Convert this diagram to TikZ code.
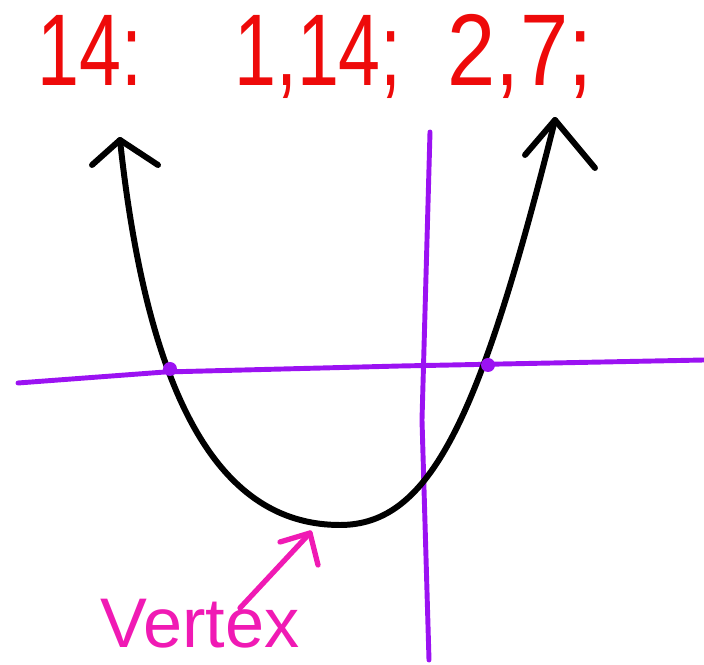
\documentclass[tikz,border=0pt]{standalone}
\usepackage{fontspec}
\setmainfont{Liberation Sans}
\definecolor{penred}{HTML}{EE0A0A}
\definecolor{penpurple}{HTML}{9B12F2}
\definecolor{penpink}{HTML}{F01AB4}

\begin{document}
\begin{tikzpicture}[x=0.02cm, y=-0.02cm, line cap=round, line join=round,
  curve/.style={black, line width=3.4pt},
  axis/.style={penpurple, line width=2.8pt},
  factors/.style={penred, font=\fontsize{58}{62}\selectfont, xscale=0.74, inner sep=0pt, anchor=base},
  pointer/.style={penpink, line width=3pt}]
\useasboundingbox (0,0) rectangle (704,665);
% axes
\coordinate (xl) at (18,383);
\coordinate (xr) at (704,360);
\coordinate (yt) at (430,132);
\coordinate (yb) at (429,660);
\draw[axis] (xl) -- (165,372) -- (400,366) -- (xr);
\draw[axis] (yt) -- (422,420) -- (yb);
% parabola
\coordinate (lt) at (120,140);
\coordinate (vx) at (340,525);
\coordinate (rt) at (555,120);
\draw[curve] (lt) .. controls (150,420) and (230,525) .. (vx)
  .. controls (430,525) and (480,420) .. (rt);
\draw[curve] (92,165) -- (lt) -- (158,165);
\draw[curve] (525,155) -- (rt) -- (595,168);
% zeros
\fill[penpurple] (170,369) circle (7);
\fill[penpurple] (488,365) circle (7);
% factor pairs
\node[factors] (n) at (90,86) {14:};
\node[factors] (p1) at (318,86) {1,14;};
\node[factors, xscale=1.15] (p2) at (520,86) {2,7;};
% vertex label
\node[penpink, font=\fontsize{40}{44}\selectfont, anchor=base, inner sep=0pt] (lbl) at (200,648) {Vertex};
\coordinate (tip) at (310,533);
\draw[pointer] (240,608) -- (tip);
\draw[pointer] (280,542) -- (tip) -- (318,565);
\end{tikzpicture}
\end{document}
